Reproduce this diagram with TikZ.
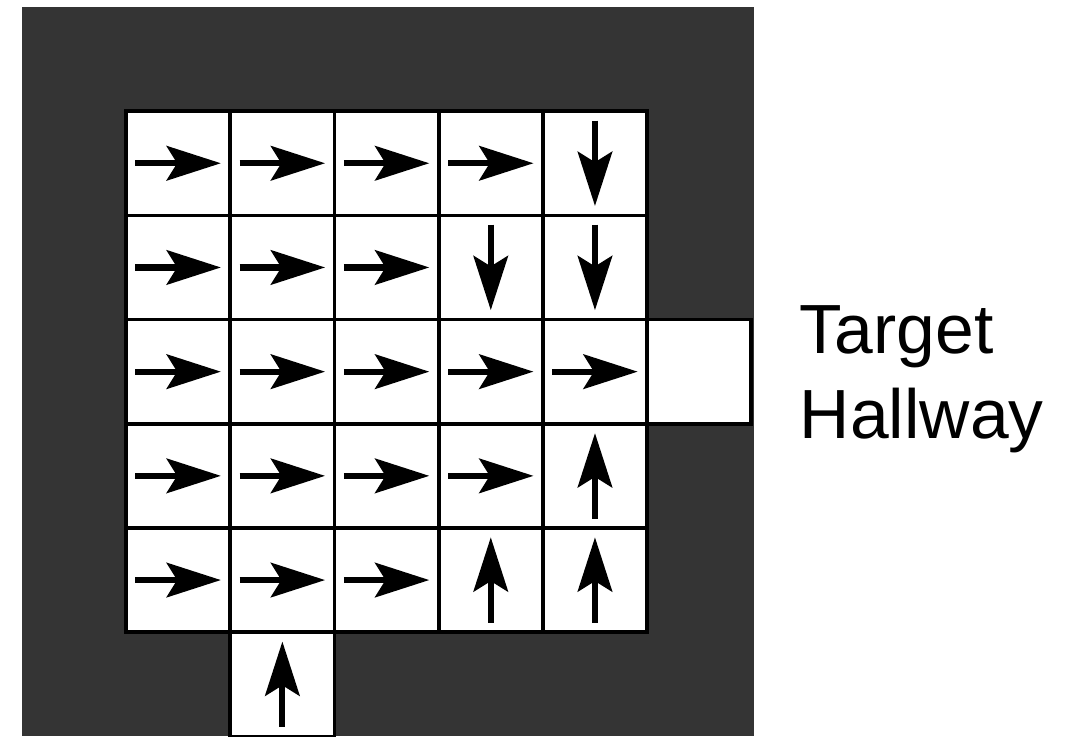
\documentclass[tikz,border=0pt]{standalone}
\usepackage{fontspec}
\setsansfont{Liberation Sans}
\usepackage{tikz}
\usetikzlibrary{positioning,arrows.meta}
\definecolor{wallgray}{HTML}{343434}

\begin{document}
\begin{tikzpicture}[
  x=1cm,y=1cm,
  wall/.style={fill=wallgray},
  cell/.style={draw=black,fill=white,line width=1pt,minimum size=1cm,inner sep=0pt,outer sep=0pt},
  move/.style={-{Stealth[length=5.2mm,width=3.3mm,inset=1mm]},line width=1.7pt},
  goal/.style={font=\sffamily\fontsize{19}{23}\selectfont,inner sep=0pt,anchor=base west}
]
\useasboundingbox (-0.21,0) rectangle (10.03,7.067);
\fill[wall] (0,0) rectangle (7.03,7);

% room cells
\foreach \r in {1,...,5}
  \foreach \c in {1,...,5}
    \node[cell] (c\r\c) at (\c+0.5,6.5-\r) {};
\node[cell] (c36) at (6.5,3.5) {};
\node[cell] (c62) at (2.5,0.5) {};

% policy arrows (angle of each move)
\foreach \n/\a in {11/0,12/0,13/0,14/0,15/-90,
                   21/0,22/0,23/0,24/-90,25/-90,
                   31/0,32/0,33/0,34/0,35/0,
                   41/0,42/0,43/0,44/0,45/90,
                   51/0,52/0,53/0,54/90,55/90,
                   62/90}
  \draw[move] ([shift={(\a+180:4.1mm)}]c\n.center) -- ([shift={(\a:4.1mm)}]c\n.center);

\node[goal] (tgt) at (7.46,3.67) {Target};
\node[goal] (hall) at (7.46,2.86) {Hallway};
\end{tikzpicture}
\end{document}
